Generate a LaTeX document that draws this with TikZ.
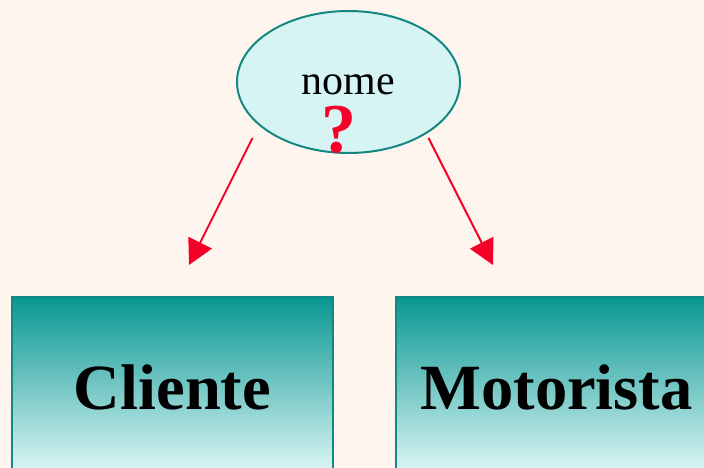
\documentclass[tikz,border=0pt]{standalone}
\usepackage{fontspec}
\setmainfont{Liberation Serif}
\usetikzlibrary{shapes.geometric,arrows.meta}

\definecolor{paper}{RGB}{254,245,239}
\definecolor{attrfill}{RGB}{213,244,243}
\definecolor{tealline}{RGB}{20,135,130}
\definecolor{boxtop}{RGB}{8,150,145}
\definecolor{boxbottom}{RGB}{226,249,248}
\definecolor{alertred}{RGB}{245,0,40}

\tikzset{
  attribute/.style={ellipse, draw=tealline, line width=2pt, fill=attrfill,
    minimum width=223pt, minimum height=142pt, inner sep=0pt},
  entity/.style={rectangle, draw=tealline, line width=1.5pt,
    top color=boxtop, bottom color=boxbottom,
    minimum width=321pt, minimum height=180pt, inner sep=0pt,
    font=\fontsize{64.5}{70}\selectfont\bfseries},
  link/.style={draw=alertred, line width=2pt, -{Triangle[length=25pt,width=26pt]}}
}

\begin{document}
\begin{tikzpicture}[x=1pt,y=-1pt]
  \useasboundingbox (0,0) rectangle (704,468);
  \fill[paper] (0,0) rectangle (704,468);
  \clip (0,0) rectangle (704,468);

  % attribute ellipse with its label and the question mark
  \node[attribute] (attr) at (348.5,82) {};
  \node[anchor=base, inner sep=0pt, font=\fontsize{42}{48}\selectfont] (nm) at (348.5,95) {nome};
  \node[anchor=base, inner sep=0pt, text=alertred, font=\fontsize{70}{76}\selectfont\bfseries] (q) at (339,153) {?};

  % the two entity boxes
  \node[entity] (cli) at (172.5,387) {Cliente};
  \node[entity] (mot) at (556.5,387) {Motorista};

  % arrows from the attribute towards the entities
  \coordinate (s1) at (252.5,138);
  \coordinate (t1) at (189,265);
  \coordinate (s2) at (428.5,138);
  \coordinate (t2) at (493,265);
  \draw[link] (s1) -- (t1);
  \draw[link] (s2) -- (t2);
\end{tikzpicture}
\end{document}
